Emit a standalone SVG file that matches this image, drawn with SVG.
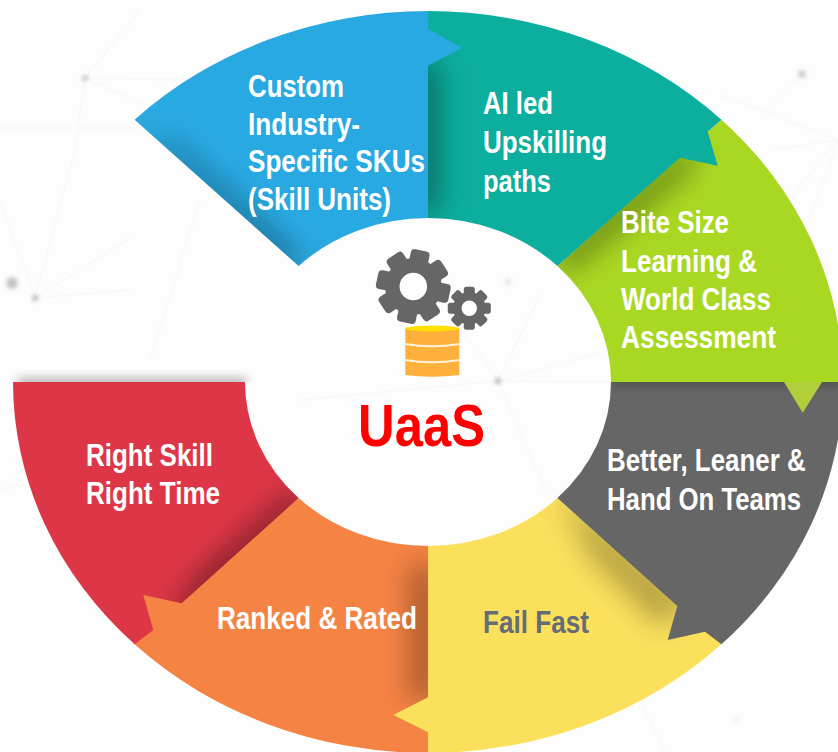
<svg xmlns="http://www.w3.org/2000/svg" width="838" height="752" viewBox="0 0 838 752">
<style>
text{font-family:"Liberation Sans",Arial,sans-serif;font-weight:700;font-size:32px;fill:#fff;}
.ff{fill:#666c76;}
.uaas{font-size:60px;fill:#ff0000;}
.sh{fill:#000;filter:url(#soft);}
.bgl{stroke:#000;stroke-opacity:.016;stroke-width:2;fill:none;}
.dot{fill:#000;filter:url(#dotblur);}
.gear{fill:#666666;filter:url(#tiny);}
</style>
<defs>
<filter id="soft" filterUnits="userSpaceOnUse" x="-50" y="-50" width="940" height="860"><feGaussianBlur stdDeviation="14"/></filter>
<filter id="softer" filterUnits="userSpaceOnUse" x="-50" y="-50" width="940" height="860"><feGaussianBlur stdDeviation="5"/></filter>
<filter id="dotblur" filterUnits="userSpaceOnUse" x="-50" y="-50" width="940" height="860"><feGaussianBlur stdDeviation="2"/></filter>
<filter id="tiny" filterUnits="userSpaceOnUse" x="-50" y="-50" width="940" height="860"><feGaussianBlur stdDeviation=".5"/></filter>
<path id="p-red" d="M134.6,644.3A415,371 0 0 1 13,382L245,382A183,164 0 0 0 298.6,498L180,640Z"/>
<path id="p-orange" d="M428,546L428,753A415,371 0 0 1 134.6,644.3L153.3,630L143.3,595L181.7,603.3L298.6,498A183,164 0 0 0 428,546Z"/>
<path id="p-yellow" d="M428,546L428,697.3L393.3,715L428,732.3L428,753A415,371 0 0 0 721.4,644.3L557.4,498A183,164 0 0 1 428,546Z"/>
<path id="p-grey" d="M611,382L843,382A415,371 0 0 1 721.4,644.3L705,631.7L667.7,640L677.3,606L557.4,498A183,164 0 0 0 611,382Z"/>
<path id="p-green" d="M721.4,119.7A415,371 0 0 1 843,382L611,382A183,164 0 0 0 557.4,266Z"/>
<path id="p-teal" d="M428,11A415,371 0 0 1 721.4,119.7L707.7,131.7L717.7,165.7L680,157.7L557.4,266A183,164 0 0 0 428,218Z"/>
<path id="p-blue" d="M134.6,119.7A415,371 0 0 1 428,11L428,29L461.7,47.7L428,65.7L428,218A183,164 0 0 0 298.6,266Z"/>
<clipPath id="c-red"><use href="#p-red"/></clipPath>
<clipPath id="c-orange"><use href="#p-orange"/></clipPath>
<clipPath id="c-yellow"><use href="#p-yellow"/></clipPath>
<clipPath id="c-grey"><use href="#p-grey"/></clipPath>
<clipPath id="c-green"><use href="#p-green"/></clipPath>
<clipPath id="c-teal"><use href="#p-teal"/></clipPath>
<clipPath id="c-blue"><use href="#p-blue"/></clipPath>
<clipPath id="c-page"><rect x="0" y="0" width="838" height="382"/></clipPath>
<rect id="t1" x="-9.5" y="-37" width="19" height="16" rx="4"/>
<rect id="t2" x="-5.5" y="-21.5" width="11" height="10" rx="2.5"/>
</defs>

<rect width="838" height="752" fill="#fdfdfd"/>
<g id="background">
<path class="bgl" d="M85,78L200,80M85,78L140,10M85,78L145,105M85,78L75,150L35,298M35,298L135,235M35,298L0,200M35,298L130,290M200,200L150,360M0,128H140"/>
<path class="bgl" d="M498,381L455,320M498,381L545,490M498,381L540,295M498,381L610,350M498,381L610,382M498,381L300,400M250,430L0,490"/>
<path class="bgl" d="M802,74L760,115M838,140L750,105L720,95M838,140L770,150M838,140L780,210M838,140L810,220"/>
<path class="bgl" d="M640,700L665,752"/>
<circle class="dot" cx="85" cy="78" r="2.5" fill-opacity=".3"/>
<circle class="dot" cx="12" cy="283" r="6" fill-opacity=".22"/>
<circle class="dot" cx="35" cy="298" r="3" fill-opacity=".28"/>
<circle class="dot" cx="802" cy="74" r="3.5" fill-opacity=".22"/>
<circle class="dot" cx="498" cy="381" r="3" fill-opacity=".3"/>
<circle class="dot" cx="508" cy="282" r="3" fill-opacity=".1"/>
<circle class="dot" cx="737" cy="719" r="3" fill-opacity=".05"/>
</g>
<g id="rim-shadow" clip-path="url(#c-page)"><rect x="18" y="378" width="228" height="10" fill="#000" fill-opacity=".3" filter="url(#softer)"/></g>

<g id="node-red">
<use href="#p-red" fill="#dd3646"/>
<g clip-path="url(#c-red)"><polygon class="sh" fill-opacity=".45" points="170,620 200,575 295,490 306,505 195,615"/></g>
<text x="86" y="466" textLength="127" lengthAdjust="spacingAndGlyphs">Right Skill</text>
<text x="86" y="504" textLength="134" lengthAdjust="spacingAndGlyphs">Right Time</text>
</g>
<g id="node-orange">
<use href="#p-orange" fill="#f58344"/>
<g clip-path="url(#c-orange)"><rect class="sh" fill-opacity=".38" x="412" y="565" width="22" height="135"/></g>
<text x="217" y="629" textLength="200" lengthAdjust="spacingAndGlyphs">Ranked &amp; Rated</text>
</g>
<g id="node-yellow">
<use href="#p-yellow" fill="#fbe05c"/>
<g clip-path="url(#c-yellow)"><polygon class="sh" fill-opacity=".3" points="560,490 690,605 660,625 590,555"/></g>
<text class="ff" x="483" y="633" textLength="106" lengthAdjust="spacingAndGlyphs">Fail Fast</text>
</g>
<g id="node-grey">
<use href="#p-grey" fill="#666666"/>
<g clip-path="url(#c-grey)"><rect x="611" y="378" width="230" height="8" fill="#000" fill-opacity=".25" filter="url(#softer)"/></g>
<text transform="translate(607 471) scale(.81 1)">Better, Leaner &amp;</text>
<text transform="translate(607 510) scale(.805 1)">Hand On Teams</text>
</g>
<g id="node-green">
<polygon points="783.3,381 802.7,412.7 822.7,381" fill="#b1cf3a"/>
<use href="#p-green" fill="#a9d822"/>
<g clip-path="url(#c-green)"><polygon class="sh" fill-opacity=".42" points="690,145 695,165 625,225 570,270 548,262"/></g>
<text x="621" y="233" textLength="108" lengthAdjust="spacingAndGlyphs">Bite Size</text>
<text x="621" y="272" textLength="136" lengthAdjust="spacingAndGlyphs">Learning &amp;</text>
<text x="621" y="310" textLength="150" lengthAdjust="spacingAndGlyphs">World Class</text>
<text x="621" y="348" textLength="155" lengthAdjust="spacingAndGlyphs">Assessment</text>
</g>
<g id="node-teal">
<use href="#p-teal" fill="#0cae9e"/>
<g clip-path="url(#c-teal)"><rect class="sh" fill-opacity=".4" x="414" y="62" width="24" height="150"/></g>
<text x="483" y="114" textLength="70" lengthAdjust="spacingAndGlyphs">AI led</text>
<text x="483" y="153" textLength="124" lengthAdjust="spacingAndGlyphs">Upskilling</text>
<text x="483" y="192" textLength="68" lengthAdjust="spacingAndGlyphs">paths</text>
</g>
<g id="node-blue">
<use href="#p-blue" fill="#29a9e1"/>
<g clip-path="url(#c-blue)"><polygon class="sh" fill-opacity=".42" points="175,145 305,262 280,265 150,135"/></g>
<text x="248" y="97" textLength="96" lengthAdjust="spacingAndGlyphs">Custom</text>
<text x="248" y="135" textLength="112" lengthAdjust="spacingAndGlyphs">Industry-</text>
<text x="248" y="172" textLength="177" lengthAdjust="spacingAndGlyphs">Specific SKUs</text>
<text x="248" y="210" textLength="143" lengthAdjust="spacingAndGlyphs">(Skill Units)</text>
</g>
<g id="node-center">
<g class="gear">
<g id="gear-large" transform="translate(413.3,286.5)">
<circle r="21" fill="none" stroke="#666666" stroke-width="14.5"/>
<use href="#t1" transform="rotate(12)"/><use href="#t1" transform="rotate(57)"/><use href="#t1" transform="rotate(102)"/><use href="#t1" transform="rotate(147)"/><use href="#t1" transform="rotate(192)"/><use href="#t1" transform="rotate(237)"/><use href="#t1" transform="rotate(282)"/><use href="#t1" transform="rotate(327)"/>
</g>
<g id="gear-small" transform="translate(469.3,308.3)">
<circle r="12" fill="none" stroke="#666666" stroke-width="8.5"/>
<use href="#t2" transform="rotate(0)"/><use href="#t2" transform="rotate(45)"/><use href="#t2" transform="rotate(90)"/><use href="#t2" transform="rotate(135)"/><use href="#t2" transform="rotate(180)"/><use href="#t2" transform="rotate(225)"/><use href="#t2" transform="rotate(270)"/><use href="#t2" transform="rotate(315)"/>
</g>
</g>
<g id="database">
<path d="M405.3,328.5V375Q432,378.5 459.3,375V328.5Z" fill="#fdb03c"/>
<ellipse cx="432.3" cy="328.5" rx="27" ry="3" fill="#ffe000"/>
<path d="M405.3,344Q432,348.5 459.3,344M405.3,360Q432,364.5 459.3,360" fill="none" stroke="#fff3dc" stroke-width="1.8"/>
</g>
<text class="uaas" x="358" y="446" textLength="127" lengthAdjust="spacingAndGlyphs">UaaS</text>
</g>
</svg>
